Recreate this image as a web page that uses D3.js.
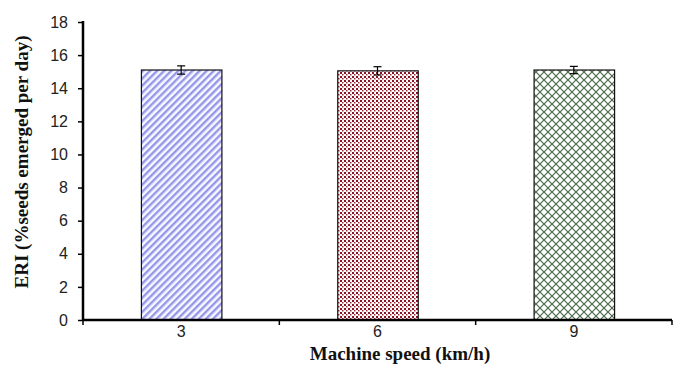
<!DOCTYPE html>
<html>
<head>
<meta charset='UTF-8'>
<title>ERI bar chart</title>
<script src='https://cdn.jsdelivr.net/npm/d3@7/dist/d3.min.js'></script>
<style>
  body {margin:0; background:#fff;}
  .tick text {font-family:'Liberation Sans Narrow', 'Arial Narrow', 'Liberation Sans', Arial, sans-serif; font-size:16px; fill:#222;}
  .title {font-family:'Liberation Serif', 'Times New Roman', serif; font-weight:bold; fill:#111;}
</style>
</head>
<body>
<div id='chart'></div>
<script>
// data
var speeds = ['3', '6', '9'];
var eri = [15.1, 15.05, 15.1];
var eriErr = [0.25, 0.25, 0.22];
var yTicks = [0, 2, 4, 6, 8, 10, 12, 14, 16, 18];

var width = 678, height = 367;
var plotLeft = 83, plotRight = 672, plotTop = 22, plotBottom = 320;

var svg = d3.select('#chart').append('svg')
  .attr('width', width)
  .attr('height', height);

/* patterns */
var defs = svg.append('defs');

var p1 = defs.append('pattern')
  .attr('id', 'stripes')
  .attr('patternUnits', 'userSpaceOnUse')
  .attr('width', 5).attr('height', 5)
  .attr('patternTransform', 'rotate(45)');
p1.append('rect').attr('width', 5).attr('height', 5).attr('fill', '#f8f8ff');
p1.append('rect').attr('width', 2.4).attr('height', 5).attr('fill', '#9797ea');

var p2 = defs.append('pattern')
  .attr('id', 'dots')
  .attr('patternUnits', 'userSpaceOnUse')
  .attr('width', 4).attr('height', 4);
p2.append('rect').attr('width', 4).attr('height', 4).attr('fill', '#fff');
p2.append('rect').attr('x', 0).attr('y', 0).attr('width', 2).attr('height', 2).attr('fill', '#861424');
p2.append('rect').attr('x', 2).attr('y', 2).attr('width', 1.5).attr('height', 1.5).attr('fill', '#9a2a38');

var p3 = defs.append('pattern')
  .attr('id', 'lattice')
  .attr('patternUnits', 'userSpaceOnUse')
  .attr('width', 8).attr('height', 8);
p3.append('rect').attr('width', 8).attr('height', 8).attr('fill', '#fff');
p3.append('path').attr('d', 'M0,0 L8,8 M8,0 L0,8')
  .attr('stroke', '#4a6a4a').attr('stroke-width', 1.2);

var fills = ['url(#stripes)', 'url(#dots)', 'url(#lattice)'];

/* scales */
var x = d3.scaleBand()
  .domain(speeds)
  .range([plotLeft, plotRight])
  .paddingInner(0.59)
  .paddingOuter(0.295);

var y = d3.scaleLinear()
  .domain([0, 18])
  .range([plotBottom, plotTop]);

/* bars */
svg.selectAll('.bar')
  .data(eri).enter()
  .append('rect')
  .attr('class', 'bar')
  .attr('x', (d, i) => x(speeds[i]) + 0.5)
  .attr('y', d => y(d))
  .attr('width', x.bandwidth())
  .attr('height', d => y(0) - y(d))
  .attr('fill', (d, i) => fills[i])
  .attr('stroke', '#111')
  .attr('stroke-width', 1.2);

/* error bars */
var eb = svg.selectAll('.err')
  .data(eri).enter()
  .append('g')
  .attr('class', 'err')
  .attr('stroke', '#000')
  .attr('stroke-width', 1.2);
eb.append('line')
  .attr('x1', (d, i) => x(speeds[i]) + x.bandwidth() / 2)
  .attr('x2', (d, i) => x(speeds[i]) + x.bandwidth() / 2)
  .attr('y1', (d, i) => y(d + eriErr[i]))
  .attr('y2', (d, i) => y(d - eriErr[i]));
[1, -1].forEach(function(s) {
  eb.append('line')
    .attr('x1', (d, i) => x(speeds[i]) + x.bandwidth() / 2 - 4)
    .attr('x2', (d, i) => x(speeds[i]) + x.bandwidth() / 2 + 4)
    .attr('y1', (d, i) => y(d + s * eriErr[i]))
    .attr('y2', (d, i) => y(d + s * eriErr[i]));
});

/* axes */
var yAxis = d3.axisLeft(y).tickValues(yTicks).tickSize(5).tickPadding(10);
var gy = svg.append('g')
  .attr('transform', `translate(${plotLeft}, 0)`)
  .call(yAxis);
gy.select('.domain').attr('stroke', '#000').attr('stroke-width', 2.5).attr('d', `M0,${plotTop - 1}V${plotBottom + 1}`);
gy.selectAll('.tick line').attr('stroke', '#000').attr('stroke-width', 1.5);

var xAxis = d3.axisBottom(x).tickSize(0).tickPadding(6);
var gx = svg.append('g')
  .attr('transform', `translate(0, ${plotBottom})`)
  .call(xAxis);
gx.select('.domain').attr('stroke', '#000').attr('stroke-width', 2.5).attr('d', `M${plotLeft},0H${plotRight}`);

// boundary ticks between categories
var bounds = d3.range(speeds.length + 1).map(i => plotLeft + i * x.step());
svg.selectAll('.btick')
  .data(bounds).enter()
  .append('line')
  .attr('x1', d => d).attr('x2', d => d)
  .attr('y1', plotBottom).attr('y2', plotBottom + 5)
  .attr('stroke', '#000').attr('stroke-width', 1.5);

/* titles */
svg.append('text')
  .attr('class', 'title')
  .attr('x', 400)
  .attr('y', 360)
  .attr('text-anchor', 'middle')
  .style('font-size', '19px')
  .text('Machine speed (km/h)');

svg.append('text')
  .attr('class', 'title')
  .attr('transform', 'translate(28, 162) rotate(-90)')
  .attr('text-anchor', 'middle')
  .style('font-size', '19px')
  .text('ERI (%seeds emerged per day)');
</script>
</body>
</html>
